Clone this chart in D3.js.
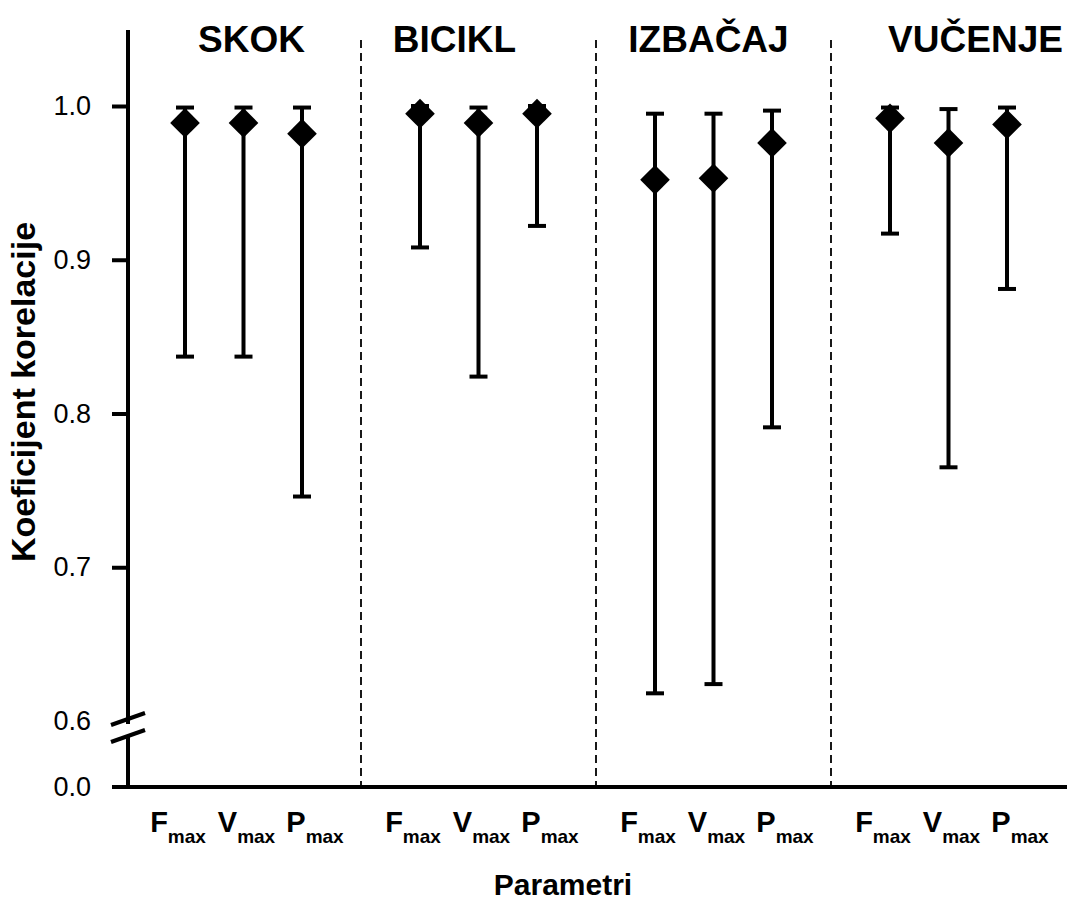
<!DOCTYPE html>
<html>
<head>
<meta charset="utf-8">
<script src="https://cdn.jsdelivr.net/npm/d3@7"></script>
<style>
  html, body { margin: 0; padding: 0; background: #fff; }
  svg { display: block; font-family: "Liberation Sans", Arial, sans-serif; }
</style>
</head>
<body>
<svg id="chart" width="1072" height="903"></svg>
<script>
// Correlation coefficients (mean with lower/upper bounds) per exercise and parameter
const groups = ["SKOK", "BICIKL", "IZBAČAJ", "VUČENJE"];
const params = ["F", "V", "P"];
const paramSub = "max";

const meanValues = [
  [0.989, 0.989, 0.982],
  [0.995, 0.989, 0.995],
  [0.952, 0.953, 0.976],
  [0.992, 0.976, 0.988]
];
const upperValues = [
  [0.999, 0.999, 0.999],
  [1.000, 0.999, 1.000],
  [0.995, 0.995, 0.997],
  [0.999, 0.998, 0.999]
];
const lowerValues = [
  [0.837, 0.837, 0.746],
  [0.908, 0.824, 0.922],
  [0.618, 0.624, 0.791],
  [0.917, 0.765, 0.881]
];
const yTickValues = [0.0, 0.6, 0.7, 0.8, 0.9, 1.0];

const svg = d3.select("#chart");
const axisX = 128, baseY = 787;

// Broken value axis: 0.0 sits just below the break, 0.6–1.0 is linear
const y = d3.scaleLinear().domain([0, 0.6, 1.0]).range([baseY, 721, 106]);

// Group bands and parameter positions within each band
const gx = d3.scaleBand().domain(groups).range([126, 1066]).paddingInner(0).paddingOuter(0);
const px = d3.scalePoint().domain(params).range([59, 176]);
const lx = d3.scalePoint().domain(params).range([52, 189]);

// Dashed group separators
svg.append("g").selectAll("line")
  .data(groups.slice(1))
  .join("line")
  .attr("x1", d => gx(d)).attr("x2", d => gx(d))
  .attr("y1", 40).attr("y2", baseY)
  .attr("stroke", "#000").attr("stroke-width", 1.8)
  .attr("stroke-dasharray", "8,5");

// Group titles
const titleShift = [8, -24, -5, 27];
svg.append("g").selectAll("text")
  .data(groups)
  .join("text")
  .attr("x", (d, i) => gx(d) + gx.bandwidth() / 2 + titleShift[i])
  .attr("y", 52)
  .attr("text-anchor", "middle")
  .attr("font-size", 37).attr("font-weight", "bold")
  .text(d => d);

// Y axis ticks and labels
const yAxis = d3.axisLeft(y).tickValues(yTickValues).tickSize(16).tickPadding(21)
  .tickFormat(d3.format(".1f"));
const gy = svg.append("g").attr("transform", `translate(${axisX},0)`).call(yAxis);
gy.select(".domain").remove();
gy.selectAll(".tick line").attr("stroke", "#000").attr("stroke-width", 4)
  .attr("display", d => (d === 0 || d === 0.6) ? "none" : null);
gy.selectAll(".tick text").attr("font-size", 27).attr("fill", "#000")
  .attr("font-family", "Liberation Sans, Arial, sans-serif");

// Axis lines with a break between 0.0 and 0.6
const axisG = svg.append("g").attr("stroke", "#000").attr("stroke-width", 4).attr("fill", "none");
axisG.append("line").attr("x1", axisX).attr("x2", axisX).attr("y1", 30).attr("y2", 724);
axisG.append("line").attr("x1", axisX).attr("x2", axisX).attr("y1", 737).attr("y2", baseY);
axisG.append("line").attr("x1", 112).attr("x2", 1067).attr("y1", baseY).attr("y2", baseY);
// Break marks
axisG.append("line").attr("x1", 111).attr("y1", 725).attr("x2", 145).attr("y2", 713);
axisG.append("line").attr("x1", 111).attr("y1", 742).attr("x2", 145).attr("y2", 730);

// Flatten for marks
const rows = [];
groups.forEach((g, gi) => params.forEach((p, pi) => rows.push({
  g, p,
  mean: meanValues[gi][pi], lo: lowerValues[gi][pi], hi: upperValues[gi][pi],
  x: gx(g) + px(p)
})));

// Error bars
const eb = svg.append("g").attr("stroke", "#000").attr("stroke-width", 4);
eb.selectAll(".stem").data(rows).join("line").attr("class", "stem")
  .attr("x1", d => d.x).attr("x2", d => d.x)
  .attr("y1", d => y(d.hi)).attr("y2", d => y(d.lo));
eb.selectAll(".capLo").data(rows).join("line").attr("class", "capLo")
  .attr("x1", d => d.x - 9).attr("x2", d => d.x + 9)
  .attr("y1", d => y(d.lo)).attr("y2", d => y(d.lo));
eb.selectAll(".capHi").data(rows).join("line").attr("class", "capHi")
  .attr("x1", d => d.x - 9).attr("x2", d => d.x + 9)
  .attr("y1", d => y(d.hi)).attr("y2", d => y(d.hi));

// Diamond markers for the mean
svg.append("g").selectAll("path").data(rows).join("path")
  .attr("transform", d => `translate(${d.x},${y(d.mean)}) rotate(45)`)
  .attr("d", d3.symbol().type(d3.symbolSquare).size(440))
  .attr("fill", "#000");

// Parameter labels with subscript
const xl = svg.append("g").selectAll("text").data(rows).join("text")
  .attr("x", d => gx(d.g) + lx(d.p))
  .attr("y", 832)
  .attr("text-anchor", "middle")
  .attr("font-weight", "bold");
xl.append("tspan").attr("font-size", 29).text(d => d.p);
xl.append("tspan").attr("font-size", 19).attr("dy", 11).text(paramSub);

// Axis titles
svg.append("text")
  .attr("x", 563).attr("y", 895)
  .attr("text-anchor", "middle")
  .attr("font-size", 30).attr("font-weight", "bold")
  .text("Parametri");
svg.append("text")
  .attr("transform", "translate(35,392) rotate(-90)")
  .attr("text-anchor", "middle")
  .attr("font-size", 34).attr("font-weight", "bold")
  .text("Koeficijent korelacije");
</script>
</body>
</html>
